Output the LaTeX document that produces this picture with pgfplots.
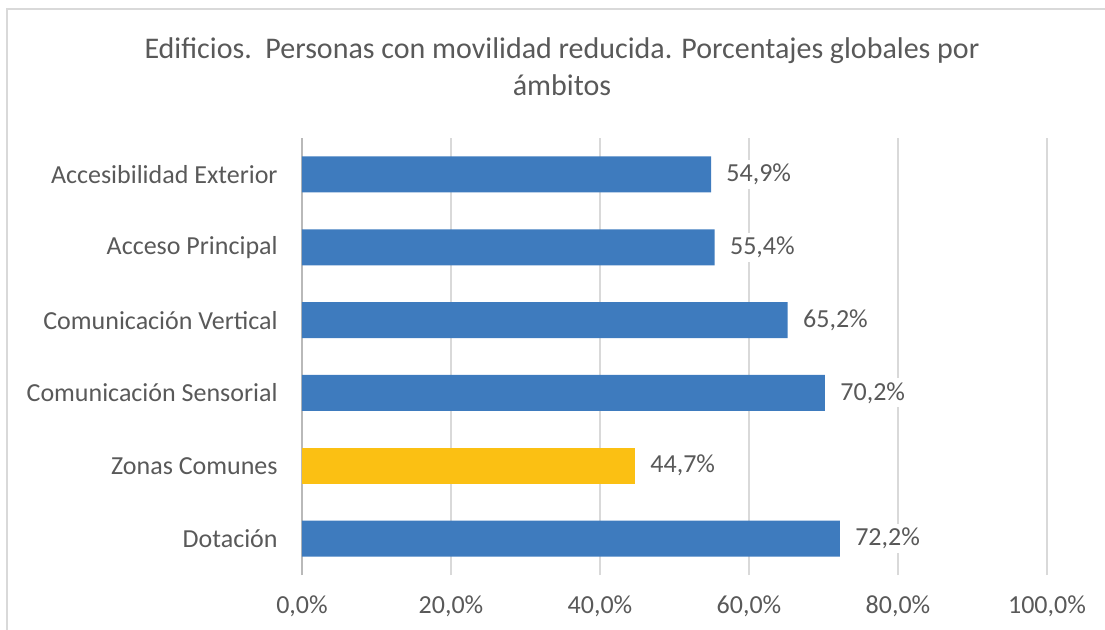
\documentclass[border=0pt]{standalone}
\usepackage{pgfplots}
\pgfplotsset{compat=1.18}
\usepackage{fontspec}
\setmainfont{Carlito}
\definecolor{txt}{HTML}{595959}
\definecolor{barblue}{HTML}{3E7BBE}
\definecolor{baryellow}{HTML}{FBC013}
\definecolor{gridc}{HTML}{D9D9D9}
\definecolor{framec}{HTML}{D9D9D9}
\begin{document}
\begin{tikzpicture}
\useasboundingbox (0,0) rectangle (552.5pt,314.5pt);
\draw[framec, line width=0.8pt] (3.5pt,-10pt) rectangle (570pt,310pt);
\node[anchor=base, align=center, text=txt, font=\fontsize{15}{18.5}\selectfont] at (281pt,267pt)
  {Edificios.\ \ Personas con movilidad reducida. Porcentajes globales por\\ámbitos};
\begin{axis}[
  at={(151pt,27pt)}, anchor=south west,
  scale only axis, width=372.5pt, height=218.5pt,
  xbar, bar width=18pt, bar shift=0pt,
  xmin=0, xmax=100, ymin=-0.5, ymax=5.5,
  xtick={0,20,40,60,80,100},
  ytick={0,1,2,3,4,5},
  yticklabels={Dotación,Zonas Comunes,Comunicación Sensorial,Comunicación Vertical,Acceso Principal,Accesibilidad Exterior},
  /pgf/number format/assume math mode=true,
  xticklabel={\pgfmathprintnumber[fixed,fixed zerofill,precision=1,use comma]{\tick}\%},
  xmajorgrids, grid style={gridc, line width=0.6pt},
  major tick length=0pt,
  axis y line*=left, axis x line*=bottom,
  x axis line style={draw=none},
  y axis line style={draw=gray!55, line width=0.6pt},
  tick label style={text=txt, font=\fontsize{13}{15}\selectfont},
  xticklabel style={anchor=base, yshift=-19pt, inner sep=0pt},
  yticklabel style={anchor=east, inner sep=0pt, xshift=-12pt},
  point meta=x,
  nodes near coords={\pgfmathprintnumber[fixed,fixed zerofill,precision=1,use comma]{\pgfplotspointmeta}\%},
  nodes near coords style={anchor=west, inner sep=2pt, fill=white, text=txt, font=\fontsize{13}{15}\selectfont, xshift=5.5pt},
  clip=false,
]
\addplot[fill=barblue, draw=none] coordinates {(72.2,0) (70.2,2) (65.2,3) (55.4,4) (54.9,5)};
\addplot[fill=baryellow, draw=none] coordinates {(44.7,1)};
\end{axis}
\end{tikzpicture}
\end{document}
